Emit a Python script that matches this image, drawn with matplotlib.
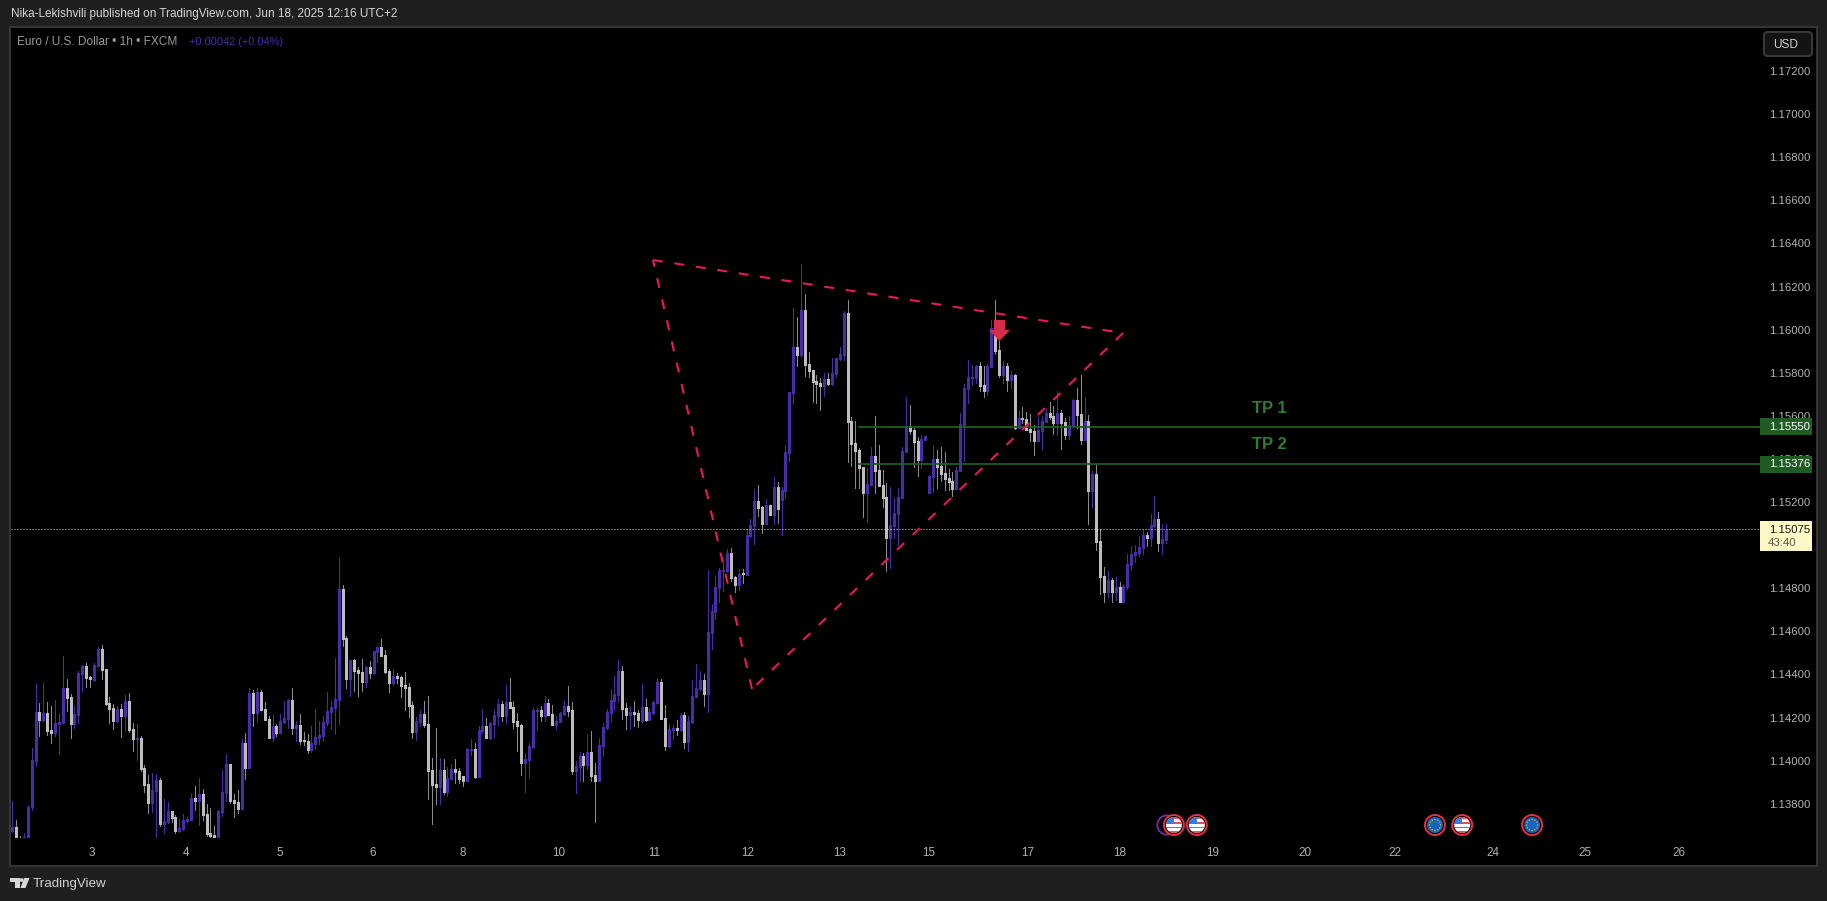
import matplotlib
matplotlib.use('Agg')
import matplotlib.pyplot as plt
import numpy as np
from matplotlib.patches import Rectangle, Circle, Polygon, FancyBboxPatch

plt.rcParams['font.family'] = ['Liberation Sans', 'DejaVu Sans']

W, H = 1827, 901
BAR_W = 3.885
BAR_X0 = 12.3
PX_PER_PRICE = 21550

# EURUSD 1h candles, price x 1e5
opens = [
  113674,113693,113625,113597,113644,113783,113999,114227,114190,114222,
  114143,114129,114171,114176,114338,114296,114171,114213,114403,114440,
  114386,114375,114440,114519,114426,114269,114245,114185,114241,114208,
  114278,114148,114101,114106,113967,113893,113804,113860,113911,113707,
  113716,113767,113739,113674,113684,113721,113726,113828,113814,113846,
  113753,113665,113656,113625,113763,113851,113985,113818,113809,113777,
  114083,113967,114315,114222,114320,114241,114194,114106,114162,114129,
  114180,114194,114282,114152,114166,114097,114092,114050,114078,114106,
  114115,114176,114227,114245,114282,114798,114570,114380,114468,114422,
  114412,114366,114436,114408,114505,114528,114491,114417,114361,114394,
  114389,114352,114343,114259,114134,114180,114217,114171,113958,113893,
  113879,113958,113855,113916,113962,113953,113930,113907,114050,114055,
  113925,114139,114162,114106,114171,114208,114264,114208,114273,114250,
  114185,114166,113990,114004,114064,114231,114236,114208,114269,114217,
  114166,114180,114217,114255,114236,113953,113971,114023,113981,114041,
  113934,113907,114069,114152,114222,114278,114306,114417,114245,114213,
  114227,114222,114185,114250,114190,114222,114269,114366,114199,114069,
  114143,114152,114143,114213,114088,114180,114296,114333,114375,114310,
  114593,114691,114802,114881,114881,114965,114853,114816,114870,114863,
  115044,115090,115206,115179,115100,115188,115141,115271,115211,115253,
  115429,115708,115921,115884,116093,115842,115814,115763,115754,115740,
  115773,115749,115796,115865,115884,116079,115578,115476,115443,115364,
  115243,115281,115415,115350,115281,115225,115035,115090,115146,115220,
  115434,115554,115536,115485,115397,115489,115243,115318,115401,115369,
  115336,115313,115299,115262,115345,115559,115726,115777,115777,115833,
  115744,115716,115828,116009,115907,115791,115833,115768,115791,115545,
  115591,115587,115540,115531,115484,115531,115573,115614,115600,115568,
  115614,115573,115512,115554,115675,115610,115489,115577,115252,115331,
  115020,114858,114784,114839,114784,114807,114737,114807,114909,114955,
  114965,114988,115048,115034,115090,115122,115011,115025]
closes = [
  113693,113613,113610,113647,113786,114002,114227,114190,114222,114139,
  114129,114176,114180,114338,114292,114171,114217,114408,114440,114381,
  114380,114445,114519,114422,114264,114241,114185,114241,114208,114278,
  114143,114101,114106,113962,113888,113804,113865,113911,113707,113721,
  113767,113735,113674,113688,113726,113730,113828,113814,113846,113749,
  113661,113651,113625,113767,113855,113985,113814,113804,113777,114083,
  113967,114315,114222,114320,114236,114190,114106,114162,114129,114185,
  114199,114282,114152,114166,114092,114092,114050,114083,114111,114120,
  114180,114231,114250,114287,114798,114566,114380,114468,114417,114408,
  114366,114436,114408,114510,114528,114487,114412,114361,114394,114385,
  114347,114338,114255,114134,114185,114217,114166,113953,113888,113879,
  113958,113855,113920,113962,113948,113916,113907,114055,114055,113925,
  114143,114162,114106,114176,114213,114264,114208,114273,114245,114180,
  114162,113990,114009,114069,114236,114236,114208,114269,114213,114166,
  114185,114222,114255,114231,113953,113976,114023,113981,114041,113930,
  113907,114074,114157,114227,114282,114310,114417,114241,114213,114227,
  114217,114190,114250,114190,114227,114273,114366,114194,114069,114148,
  114152,114143,114213,114088,114185,114301,114338,114375,114310,114598,
  114695,114807,114886,114886,114965,114849,114816,114867,114864,115048,
  115095,115206,115174,115100,115188,115141,115271,115169,115257,115434,
  115712,115921,115884,116093,115838,115810,115759,115749,115740,115773,
  115749,115800,115870,115889,116079,115573,115471,115438,115359,115243,
  115285,115415,115346,115276,115220,115035,115095,115151,115225,115438,
  115554,115531,115480,115397,115494,115508,115322,115401,115364,115332,
  115308,115294,115262,115350,115562,115730,115781,115781,115833,115740,
  115716,115833,116009,115902,115791,115833,115768,115791,115545,115591,
  115587,115535,115526,115484,115535,115577,115614,115596,115568,115614,
  115568,115512,115559,115675,115605,115489,115577,115252,115331,115016,
  114853,114784,114839,114784,114807,114737,114811,114914,114960,114969,
  114992,115048,115034,115095,115122,115011,115030,115071]
highs = [
  113814,113724,113651,113662,113795,114060,114357,114269,114361,114273,
  114255,114282,114222,114487,114380,114310,114255,114417,114445,114454,
  114394,114454,114528,114538,114426,114296,114264,114255,114264,114306,
  114315,114176,114171,114115,113981,113934,113944,113939,113920,113823,
  113809,113767,113749,113730,113753,113739,113851,113883,113920,113869,
  113800,113781,113698,113772,113958,114032,113985,113846,113865,114101,
  114129,114338,114329,114338,114329,114273,114208,114217,114171,114217,
  114278,114287,114338,114185,114217,114134,114125,114162,114241,114185,
  114208,114320,114278,114477,114941,114816,114579,114468,114473,114436,
  114473,114440,114463,114510,114528,114566,114514,114426,114426,114408,
  114394,114412,114361,114278,114204,114236,114278,114301,114013,114152,
  114013,114009,113971,113985,114009,113967,113930,114060,114101,114083,
  114162,114241,114199,114180,114236,114287,114278,114352,114385,114278,
  114222,114171,114032,114083,114245,114245,114255,114301,114287,114259,
  114208,114227,114278,114347,114273,113999,114041,114036,114125,114139,
  113990,114106,114176,114241,114333,114394,114468,114440,114269,114255,
  114278,114236,114357,114287,114245,114278,114385,114380,114259,114171,
  114166,114190,114222,114227,114208,114375,114450,114417,114403,114886,
  114728,114858,114895,114928,114983,114988,114858,114890,114889,115076,
  115123,115262,115281,115183,115216,115188,115318,115295,115271,115466,
  115712,116102,116060,116306,116167,115898,115814,115791,115777,115800,
  115800,115870,115870,115921,116088,116139,115596,115578,115452,115364,
  115359,115457,115601,115466,115350,115290,115271,115220,115267,115457,
  115689,115652,115545,115503,115513,115508,115327,115466,115443,115457,
  115433,115354,115341,115364,115614,115749,115860,115837,115837,115851,
  115833,115842,116046,116139,115949,115856,115846,115809,115795,115628,
  115642,115619,115610,115559,115596,115600,115633,115665,115647,115716,
  115628,115591,115600,115680,115730,115791,115689,115605,115345,115382,
  115076,114900,114881,114849,114853,114830,114821,114960,114997,115002,
  115044,115071,115062,115146,115229,115155,115099,115099]
lows = [
  113667,113597,113600,113590,113640,113773,113976,114115,114185,114120,
  114083,114115,114032,114176,114231,114106,114152,114176,114324,114340,
  114340,114371,114440,114380,114259,114176,114148,114180,114111,114139,
  114134,114046,114004,113953,113855,113758,113763,113620,113698,113665,
  113712,113716,113665,113670,113679,113716,113726,113772,113702,113726,
  113651,113630,113615,113615,113744,113814,113804,113739,113758,113777,
  113916,113967,114162,114185,114236,114190,114106,114092,114115,114129,
  114176,114152,114125,114092,114078,114074,114036,114041,114060,114078,
  114092,114166,114148,114125,114171,114533,114338,114301,114324,114301,
  114324,114343,114385,114403,114459,114487,114408,114320,114352,114361,
  114296,114236,114204,114106,114097,114162,114157,113823,113707,113800,
  113800,113846,113837,113916,113897,113897,113883,113907,114027,113920,
  113925,114129,114106,114101,114111,114166,114185,114176,114245,114152,
  114046,113934,113855,113925,114064,114143,114185,114185,114213,114166,
  114148,114180,114213,114208,113939,113851,113907,113907,113962,113907,
  113716,113907,114023,114148,114185,114236,114278,114194,114148,114148,
  114162,114157,114180,114185,114190,114217,114264,114194,114050,114064,
  114101,114120,114139,114060,114046,114176,114296,114329,114255,114227,
  114519,114658,114737,114788,114876,114835,114784,114793,114825,114863,
  115039,115007,115137,115058,115100,115141,115100,115104,115049,115220,
  115392,115661,115833,115875,115786,115782,115666,115661,115629,115694,
  115745,115745,115782,115861,115861,115387,115369,115267,115267,115132,
  115109,115281,115243,115276,115179,114881,114895,115035,115002,115220,
  115434,115517,115364,115322,115359,115489,115243,115248,115267,115299,
  115257,115257,115229,115262,115345,115392,115661,115744,115754,115716,
  115689,115698,115828,115888,115781,115754,115716,115730,115540,115545,
  115568,115535,115484,115419,115484,115447,115573,115587,115517,115512,
  115447,115494,115494,115554,115545,115471,115489,115099,115178,114979,
  114774,114737,114760,114737,114746,114737,114737,114798,114886,114923,
  114951,114960,114997,114997,115085,114974,114960,115011]

day_labels = ['3', '4', '5', '6', '8', '10', '11', '12', '13', '15', '17', '18',
              '19', '20', '22', '24', '25', '26']
day_bars = [20.5, 44.7, 68.9, 92.8, 116, 140.7, 165.2, 189.2, 213, 236, 261.4, 285,
            309, 332.7, 356, 381, 404.9, 428.9]
price_ticks = [1.138, 1.140, 1.142, 1.144, 1.146, 1.148, 1.150, 1.152, 1.154, 1.156,
               1.158, 1.160, 1.162, 1.164, 1.166, 1.168, 1.170, 1.172]

last_price = 1.15075
tp_prices = [1.15550, 1.15376]
tp_names = ['TP 1', 'TP 2']
tp_name_prices = [1.15632, 1.15466]
tp_start_bar = 218
tp_name_bar = 323.5
tri_bars = [164.9, 285.9, 190.4, 164.9]
tri_prices = [1.16323, 1.15984, 1.14332, 1.16323]
arrow_bar = 254.1
arrow_price = 1.15947
event_bars = [297.2, 299.0, 304.9, 366.2, 373.2, 391.2]
event_kinds = ['other', 'us', 'us', 'eu', 'us', 'eu']

UP = '#4A2BA8'
DOWN = '#BDBDBD'
DOWN_WICK = '#8C8C8C'
PINK = '#E91858'
GREEN = '#1B5E20'


def bar_px(b):
  return BAR_X0 + BAR_W * b


def price_py(p):
  return 71 + (1.172 - p) * PX_PER_PRICE


fig = plt.figure(figsize=(W / 100, H / 100), dpi=100, facecolor='#1F1F1F')

# black pane with thin border, behind the axes
fig.add_artist(Rectangle((10 / W, 1 - 865.5 / H), 1807 / W, 838.5 / H, transform=fig.transFigure,
                         facecolor='black', edgecolor='#363636', linewidth=1.4, zorder=-1))

ax = fig.add_axes([11 / W, 1 - 838 / H, 1749 / W, 810 / H], facecolor='none')
ax.set_xlim((11 - BAR_X0) / BAR_W, (1760 - BAR_X0) / BAR_W)
ax.set_ylim(1.172 - (838 - 71) / PX_PER_PRICE, 1.172 + 43 / PX_PER_PRICE)
for s in ax.spines.values():
  s.set_visible(False)

o = np.array(opens) / 1e5
c = np.array(closes) / 1e5
hi = np.array(highs) / 1e5
lo = np.array(lows) / 1e5
x = np.arange(len(o))
colors = np.where(c >= o, UP, DOWN)
wick_colors = np.where(c >= o, UP, DOWN_WICK)

ax.vlines(x, lo, hi, colors=wick_colors, linewidth=0.72, zorder=2, antialiased=False)
# bodies as 3 px wide lines so that every candle keeps the same width
body_lo = np.minimum(o, c)
body_hi = np.maximum(np.maximum(o, c), body_lo + 0.00005)
ax.vlines(x, body_lo, body_hi, colors=colors, linewidth=2.16, capstyle='butt', zorder=3,
          antialiased=False)

ax.axhline(last_price, color='#E0E0E0', linewidth=0.72, linestyle=(0, (1, 2)), zorder=4)
for p in tp_prices:
  ax.plot([tp_start_bar, ax.get_xlim()[1]], [p, p], color=GREEN, linewidth=1.3, zorder=5)
for name, p in zip(tp_names, tp_name_prices):
  ax.text(tp_name_bar, p, name, color='#2E7D32', fontsize=12, fontweight='bold',
          ha='center', va='center', zorder=6)
for i in range(3):
  ax.plot(tri_bars[i:i + 2], tri_prices[i:i + 2], color=PINK, linewidth=1.5,
          linestyle=(0, (4.8, 5.6)), zorder=6)

ax.yaxis.tick_right()
ax.set_yticks(price_ticks)
ax.set_yticklabels(['%.5f' % p for p in price_ticks], color='#B2B2B2', fontsize=8.2)
ax.set_xticks(day_bars)
ax.set_xticklabels(day_labels, color='#B2B2B2', fontsize=8.4)
ax.tick_params(axis='x', length=0, pad=6.5)
ax.tick_params(axis='y', length=0, pad=6.2)

# overlay in pixel coordinates for labels, icons and header text
ov = fig.add_axes([0, 0, 1, 1], facecolor='none', zorder=10)
ov.set_xlim(0, W)
ov.set_ylim(H, 0)
ov.axis('off')

ov.text(11, 14.5, 'Nika-Lekishvili published on TradingView.com, Jun 18, 2025 12:16 UTC+2',
        color='#D6D6D6', fontsize=8.5, va='center')
ov.text(17, 42, 'Euro / U.S. Dollar • 1h • FXCM', color='#9A9A9A', fontsize=8.55, va='center')
ov.text(189, 42, '+0.00042 (+0.04%)', color=UP, fontsize=7.9, va='center')

ov.add_patch(FancyBboxPatch((1764, 32), 48, 24, boxstyle='round,pad=0,rounding_size=3',
                            facecolor='#131313', edgecolor='#3A3A3A', linewidth=1.4,
                            mutation_aspect=1))
ov.text(1773, 44.5, 'USD', color='#CFCFCF', fontsize=8.6, va='center')

for p in tp_prices:
  py = price_py(p)
  ov.add_patch(Rectangle((1760, py - 8.5), 52, 17, facecolor='#1E5C24', edgecolor='none'))
  ov.text(1769, py, '%.5f' % p, color='white', fontsize=8.2, va='center')

py = price_py(last_price)
ov.add_patch(Rectangle((1760, py - 8), 52, 30, facecolor='#FFF8C4', edgecolor='none'))
ov.text(1769, py + 1, '%.5f' % last_price, color='#131313', fontsize=8.2, va='center')
ov.text(1768, py + 14, '43:40', color='#5A5A4A', fontsize=8.2, va='center')

# short signal arrow
ax_x = bar_px(arrow_bar)
ax_y = price_py(arrow_price)
ov.add_patch(Polygon([(ax_x - 5.5, ax_y - 21), (ax_x + 5.5, ax_y - 21), (ax_x + 5.5, ax_y - 11),
                      (ax_x + 10.5, ax_y - 11), (ax_x, ax_y), (ax_x - 10.5, ax_y - 11),
                      (ax_x - 5.5, ax_y - 11)], facecolor='#D62E4A', edgecolor='none'))


def draw_event(bar, kind):
  cx = bar_px(bar)
  cy = 825
  if kind == 'other':
    ov.add_patch(Circle((cx, cy), 9.6, facecolor='black', edgecolor='#7A2E9E', linewidth=1.3))
    return
  ov.add_patch(Circle((cx, cy), 10, facecolor='black', edgecolor='#E8303F', linewidth=1.4))
  if kind == 'us':
    disc = Circle((cx, cy), 8, facecolor='white', edgecolor='none')
    ov.add_patch(disc)
    for dy in [-8, -3.2, 1.6, 6]:
      r = Rectangle((cx - 9, cy + dy), 18, 1.8, facecolor='#E85050', edgecolor='none')
      ov.add_patch(r)
      r.set_clip_path(disc)
    r = Rectangle((cx - 9, cy - 9), 9, 8, facecolor='#2F80E0', edgecolor='none')
    ov.add_patch(r)
    r.set_clip_path(disc)
  else:
    ov.add_patch(Circle((cx, cy), 8, facecolor='#1565C0', edgecolor='none'))
    for a in np.deg2rad(np.arange(0, 360, 30)):
      ov.add_patch(Circle((cx + 5.5 * np.cos(a), cy + 5.5 * np.sin(a)), 0.7,
                          facecolor='#E8C020', edgecolor='none'))


for b, k in zip(event_bars, event_kinds):
  draw_event(b, k)

# TradingView footer mark
ov.add_patch(Rectangle((10, 878), 9.5, 4, facecolor='#D8D8D8', edgecolor='none'))
ov.add_patch(Rectangle((15, 878), 4.5, 10, facecolor='#D8D8D8', edgecolor='none'))
ov.add_patch(Circle((21.5, 880), 1.9, facecolor='#D8D8D8', edgecolor='none'))
ov.add_patch(Polygon([(24, 878), (29.5, 878), (25.5, 888), (20.5, 888)],
                     facecolor='#D8D8D8', edgecolor='none'))
ov.text(33, 883.5, 'TradingView', color='#D2D2D2', fontsize=9.6, va='center')

fig.savefig('out.png', dpi=100, facecolor=fig.get_facecolor())
